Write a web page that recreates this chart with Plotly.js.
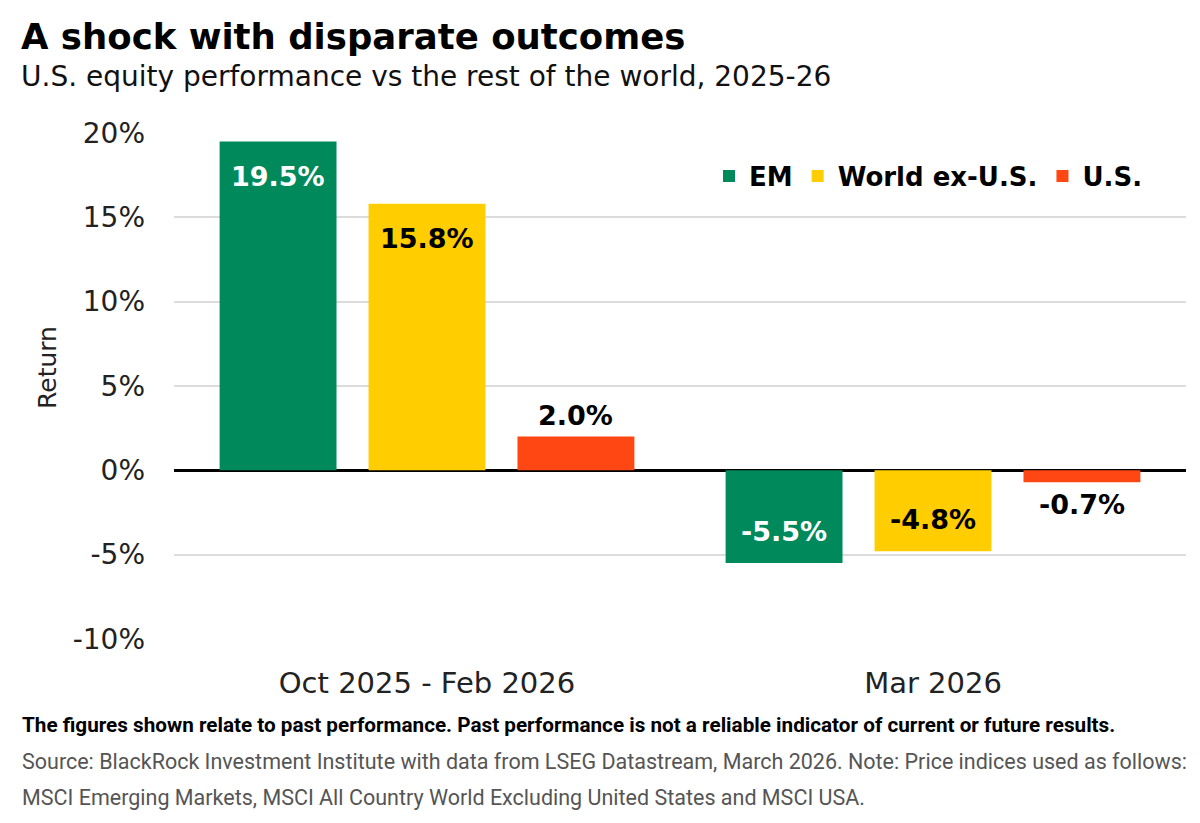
<!DOCTYPE html>
<html>
<head>
<meta charset="utf-8">
<script src="https://cdn.plot.ly/plotly-3.0.1.min.js"></script>
<style>
html,body{margin:0;padding:0;background:#fff;}
#chart{width:1200px;height:823px;}
</style>
</head>
<body>
<div id="chart"></div>
<script>
// ---- data ----
const categories = ["Oct 2025 - Feb 2026", "Mar 2026"];
const seriesNames = ["EM", "World ex-U.S.", "U.S."];
const emValues = [19.5, -5.5];
const worldExUsValues = [15.8, -4.8];
const usValues = [2.0, -0.7];
const yTickValues = [-10, -5, 0, 5, 10, 15, 20];
const yTickLabels = ["-10%", "-5%", "0%", "5%", "10%", "15%", "20%"];

// ---- styles ----
const colors = ["#008A5C", "#FFCD00", "#FF4713"];
const labelColors = ["#ffffff", "#000000", "#000000"];
const labelInside = [true, true, false];
const W = 1200, H = 823;
const M = {l: 174, r: 14, t: 133, b: 184};
const plotW = W - M.l - M.r, plotH = H - M.t - M.b;
const bargap = 0.117, bargroupgap = 0.215;
const px = x => (x - M.l) / plotW;
const py = y => (H - M.b - y) / plotH;

const allValues = [emValues, worldExUsValues, usValues];
const traces = allValues.map((vals, i) => ({
  type: "bar",
  name: seriesNames[i],
  x: categories,
  y: vals,
  marker: {color: colors[i], line: {width: 0}},
  hoverinfo: "skip"
}));

// data labels, positioned from the data values
const catPx = plotW / categories.length;
const slot = (1 - bargap) * catPx / seriesNames.length;
const annotations = [];
allValues.forEach((vals, i) => {
  vals.forEach((v, j) => {
    let ys;
    if (labelInside[i]) ys = v >= 0 ? -35 : 32;
    else ys = v >= 0 ? 21 : -22;
    annotations.push({
      x: categories[j], y: v, xref: "x", yref: "y",
      xshift: (i - 1) * slot, yshift: ys,
      text: v.toFixed(1) + "%", showarrow: false,
      xanchor: "center", yanchor: "middle",
      font: {family: "DejaVu Sans", size: 27, color: labelColors[i], weight: 700}
    });
  });
});

// titles and footer
annotations.push(
  {xref: "paper", yref: "paper", x: px(19), y: py(36), xanchor: "left", yanchor: "middle",
   text: "<b>A shock with disparate outcomes</b>", showarrow: false,
   font: {family: "DejaVu Sans", size: 35.5, color: "#000"}},
  {xref: "paper", yref: "paper", x: px(19), y: py(77), xanchor: "left", yanchor: "middle",
   text: "U.S. equity performance vs the rest of the world, 2025-26", showarrow: false,
   font: {family: "DejaVu Sans", size: 28, color: "#111"}},
  {xref: "paper", yref: "paper", x: px(47), y: py(368), xanchor: "center", yanchor: "middle",
   text: "Return", textangle: -90, showarrow: false,
   font: {family: "DejaVu Sans", size: 25, color: "#222"}},
  {xref: "paper", yref: "paper", x: px(20), y: py(725), xanchor: "left", yanchor: "middle",
   text: "<b>The figures shown relate to past performance. Past performance is not a reliable indicator of current or future results.</b>", showarrow: false,
   font: {family: "Roboto", size: 20.7, color: "#000"}},
  {xref: "paper", yref: "paper", x: px(20), y: py(761), xanchor: "left", yanchor: "middle",
   text: "Source: BlackRock Investment Institute with data from LSEG Datastream, March 2026. Note: Price indices used as follows:", showarrow: false,
   font: {family: "Roboto", size: 21.5, color: "#555"}},
  {xref: "paper", yref: "paper", x: px(20), y: py(797), xanchor: "left", yanchor: "middle",
   text: "MSCI Emerging Markets, MSCI All Country World Excluding United States and MSCI USA.", showarrow: false,
   font: {family: "Roboto", size: 21.5, color: "#555"}}
);

const layout = {
  width: W, height: H, autosize: false,
  margin: M,
  paper_bgcolor: "#fff", plot_bgcolor: "#fff",
  barmode: "group", bargap: bargap, bargroupgap: bargroupgap,
  showlegend: true,
  legend: {orientation: "h", x: px(1148), xanchor: "right", y: py(176), yanchor: "middle",
           bgcolor: "rgba(0,0,0,0)", traceorder: "normal",
           font: {family: "DejaVu Sans", size: 26, color: "#000", weight: 700}},
  xaxis: {type: "category", showgrid: false, zeroline: false, showline: false,
          ticks: "", ticklabelstandoff: 24,
          tickfont: {family: "DejaVu Sans", size: 29, color: "#222"}},
  yaxis: {range: [-10, 20], tickvals: yTickValues, ticktext: yTickLabels,
          showgrid: true, gridcolor: "#dcdcdc", gridwidth: 2,
          zeroline: true, zerolinecolor: "#000", zerolinewidth: 3.5,
          showline: false, ticks: "", ticklabelstandoff: 28,
          tickfont: {family: "DejaVu Sans", size: 28, color: "#222"}},
  annotations: annotations
};

Plotly.newPlot("chart", traces, layout, {displayModeBar: false, staticPlot: true});
</script>
</body>
</html>
